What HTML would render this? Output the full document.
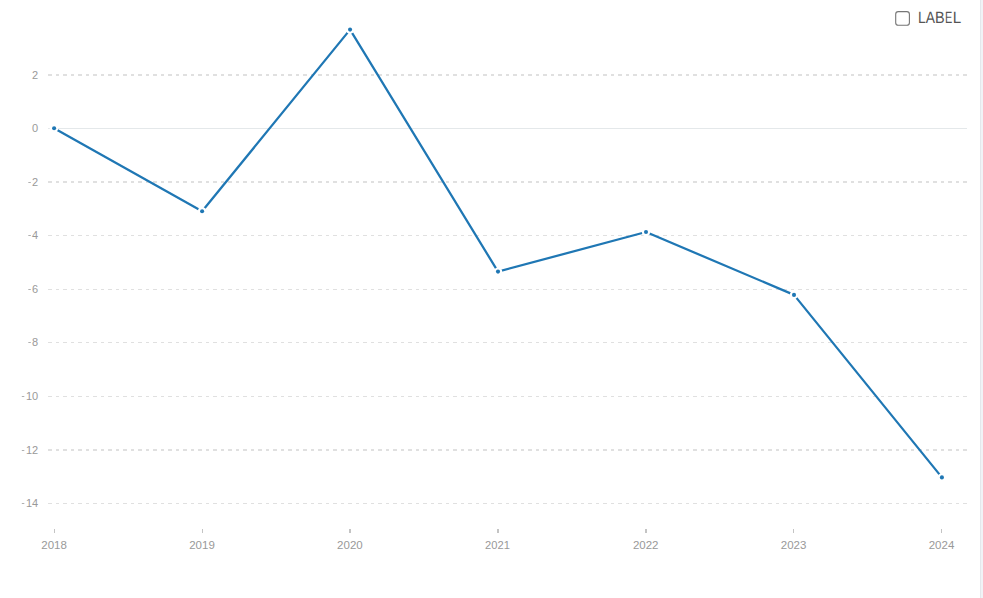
<!DOCTYPE html>
<html><head><meta charset="utf-8"><title>chart</title>
<style>
html,body{margin:0;padding:0;background:#fff;overflow:hidden}
body{width:983px;height:598px;position:relative;font-family:"Liberation Sans",sans-serif}
svg{position:absolute;left:0;top:0;display:block}
text{font-family:"Liberation Sans",sans-serif}
</style></head><body>
<svg width="983" height="598" viewBox="0 0 983 598">
<rect x="0" y="0" width="983" height="598" fill="#ffffff"/>
<rect x="980" y="0" width="1" height="598" fill="#e4e8ec"/>
<rect x="981" y="0" width="2" height="598" fill="#f1f3f6"/>
<g shape-rendering="crispEdges">
<path d="M48 74h4v2h-4zM56 74h3v2h-3zM63 74h4v2h-4zM71 74h3v2h-3zM78 74h4v2h-4zM86 74h3v2h-3zM93 74h4v2h-4zM101 74h3v2h-3zM108 74h4v2h-4zM116 74h3v2h-3zM123 74h4v2h-4zM131 74h3v2h-3zM138 74h4v2h-4zM146 74h3v2h-3zM153 74h4v2h-4zM161 74h3v2h-3zM168 74h4v2h-4zM176 74h3v2h-3zM183 74h4v2h-4zM191 74h3v2h-3zM198 74h4v2h-4zM206 74h3v2h-3zM213 74h4v2h-4zM221 74h3v2h-3zM228 74h4v2h-4zM236 74h3v2h-3zM243 74h4v2h-4zM251 74h3v2h-3zM258 74h4v2h-4zM266 74h3v2h-3zM273 74h4v2h-4zM281 74h3v2h-3zM288 74h4v2h-4zM296 74h3v2h-3zM303 74h4v2h-4zM311 74h3v2h-3zM318 74h4v2h-4zM326 74h3v2h-3zM333 74h4v2h-4zM341 74h3v2h-3zM348 74h4v2h-4zM356 74h3v2h-3zM363 74h4v2h-4zM371 74h3v2h-3zM378 74h4v2h-4zM386 74h3v2h-3zM393 74h4v2h-4zM401 74h3v2h-3zM408 74h4v2h-4zM416 74h3v2h-3zM423 74h4v2h-4zM431 74h3v2h-3zM438 74h4v2h-4zM446 74h3v2h-3zM453 74h4v2h-4zM461 74h3v2h-3zM468 74h4v2h-4zM476 74h3v2h-3zM483 74h4v2h-4zM491 74h3v2h-3zM498 74h4v2h-4zM506 74h3v2h-3zM513 74h4v2h-4zM521 74h3v2h-3zM528 74h4v2h-4zM536 74h3v2h-3zM543 74h4v2h-4zM551 74h3v2h-3zM558 74h4v2h-4zM566 74h3v2h-3zM573 74h4v2h-4zM581 74h3v2h-3zM588 74h4v2h-4zM596 74h3v2h-3zM603 74h4v2h-4zM611 74h3v2h-3zM618 74h4v2h-4zM626 74h3v2h-3zM633 74h4v2h-4zM641 74h3v2h-3zM648 74h4v2h-4zM656 74h3v2h-3zM663 74h4v2h-4zM671 74h3v2h-3zM678 74h4v2h-4zM686 74h3v2h-3zM693 74h4v2h-4zM701 74h3v2h-3zM708 74h4v2h-4zM716 74h3v2h-3zM723 74h4v2h-4zM731 74h3v2h-3zM738 74h4v2h-4zM746 74h3v2h-3zM753 74h4v2h-4zM761 74h3v2h-3zM768 74h4v2h-4zM776 74h3v2h-3zM783 74h4v2h-4zM791 74h3v2h-3zM798 74h4v2h-4zM806 74h3v2h-3zM813 74h4v2h-4zM821 74h3v2h-3zM828 74h4v2h-4zM836 74h3v2h-3zM843 74h4v2h-4zM851 74h3v2h-3zM858 74h4v2h-4zM866 74h3v2h-3zM873 74h4v2h-4zM881 74h3v2h-3zM888 74h4v2h-4zM896 74h3v2h-3zM903 74h4v2h-4zM911 74h3v2h-3zM918 74h4v2h-4zM926 74h3v2h-3zM933 74h4v2h-4zM941 74h3v2h-3zM948 74h4v2h-4zM956 74h3v2h-3zM963 74h4v2h-4z" fill="#e0e0e0"/>
<path d="M48 181h4v2h-4zM56 181h3v2h-3zM63 181h4v2h-4zM71 181h3v2h-3zM78 181h4v2h-4zM86 181h3v2h-3zM93 181h4v2h-4zM101 181h3v2h-3zM108 181h4v2h-4zM116 181h3v2h-3zM123 181h4v2h-4zM131 181h3v2h-3zM138 181h4v2h-4zM146 181h3v2h-3zM153 181h4v2h-4zM161 181h3v2h-3zM168 181h4v2h-4zM176 181h3v2h-3zM183 181h4v2h-4zM191 181h3v2h-3zM198 181h4v2h-4zM206 181h3v2h-3zM213 181h4v2h-4zM221 181h3v2h-3zM228 181h4v2h-4zM236 181h3v2h-3zM243 181h4v2h-4zM251 181h3v2h-3zM258 181h4v2h-4zM266 181h3v2h-3zM273 181h4v2h-4zM281 181h3v2h-3zM288 181h4v2h-4zM296 181h3v2h-3zM303 181h4v2h-4zM311 181h3v2h-3zM318 181h4v2h-4zM326 181h3v2h-3zM333 181h4v2h-4zM341 181h3v2h-3zM348 181h4v2h-4zM356 181h3v2h-3zM363 181h4v2h-4zM371 181h3v2h-3zM378 181h4v2h-4zM386 181h3v2h-3zM393 181h4v2h-4zM401 181h3v2h-3zM408 181h4v2h-4zM416 181h3v2h-3zM423 181h4v2h-4zM431 181h3v2h-3zM438 181h4v2h-4zM446 181h3v2h-3zM453 181h4v2h-4zM461 181h3v2h-3zM468 181h4v2h-4zM476 181h3v2h-3zM483 181h4v2h-4zM491 181h3v2h-3zM498 181h4v2h-4zM506 181h3v2h-3zM513 181h4v2h-4zM521 181h3v2h-3zM528 181h4v2h-4zM536 181h3v2h-3zM543 181h4v2h-4zM551 181h3v2h-3zM558 181h4v2h-4zM566 181h3v2h-3zM573 181h4v2h-4zM581 181h3v2h-3zM588 181h4v2h-4zM596 181h3v2h-3zM603 181h4v2h-4zM611 181h3v2h-3zM618 181h4v2h-4zM626 181h3v2h-3zM633 181h4v2h-4zM641 181h3v2h-3zM648 181h4v2h-4zM656 181h3v2h-3zM663 181h4v2h-4zM671 181h3v2h-3zM678 181h4v2h-4zM686 181h3v2h-3zM693 181h4v2h-4zM701 181h3v2h-3zM708 181h4v2h-4zM716 181h3v2h-3zM723 181h4v2h-4zM731 181h3v2h-3zM738 181h4v2h-4zM746 181h3v2h-3zM753 181h4v2h-4zM761 181h3v2h-3zM768 181h4v2h-4zM776 181h3v2h-3zM783 181h4v2h-4zM791 181h3v2h-3zM798 181h4v2h-4zM806 181h3v2h-3zM813 181h4v2h-4zM821 181h3v2h-3zM828 181h4v2h-4zM836 181h3v2h-3zM843 181h4v2h-4zM851 181h3v2h-3zM858 181h4v2h-4zM866 181h3v2h-3zM873 181h4v2h-4zM881 181h3v2h-3zM888 181h4v2h-4zM896 181h3v2h-3zM903 181h4v2h-4zM911 181h3v2h-3zM918 181h4v2h-4zM926 181h3v2h-3zM933 181h4v2h-4zM941 181h3v2h-3zM948 181h4v2h-4zM956 181h3v2h-3zM963 181h4v2h-4z" fill="#e0e0e0"/>
<path d="M48 235h4v1h-4zM56 235h3v1h-3zM63 235h4v1h-4zM71 235h3v1h-3zM78 235h4v1h-4zM86 235h3v1h-3zM93 235h4v1h-4zM101 235h3v1h-3zM108 235h4v1h-4zM116 235h3v1h-3zM123 235h4v1h-4zM131 235h3v1h-3zM138 235h4v1h-4zM146 235h3v1h-3zM153 235h4v1h-4zM161 235h3v1h-3zM168 235h4v1h-4zM176 235h3v1h-3zM183 235h4v1h-4zM191 235h3v1h-3zM198 235h4v1h-4zM206 235h3v1h-3zM213 235h4v1h-4zM221 235h3v1h-3zM228 235h4v1h-4zM236 235h3v1h-3zM243 235h4v1h-4zM251 235h3v1h-3zM258 235h4v1h-4zM266 235h3v1h-3zM273 235h4v1h-4zM281 235h3v1h-3zM288 235h4v1h-4zM296 235h3v1h-3zM303 235h4v1h-4zM311 235h3v1h-3zM318 235h4v1h-4zM326 235h3v1h-3zM333 235h4v1h-4zM341 235h3v1h-3zM348 235h4v1h-4zM356 235h3v1h-3zM363 235h4v1h-4zM371 235h3v1h-3zM378 235h4v1h-4zM386 235h3v1h-3zM393 235h4v1h-4zM401 235h3v1h-3zM408 235h4v1h-4zM416 235h3v1h-3zM423 235h4v1h-4zM431 235h3v1h-3zM438 235h4v1h-4zM446 235h3v1h-3zM453 235h4v1h-4zM461 235h3v1h-3zM468 235h4v1h-4zM476 235h3v1h-3zM483 235h4v1h-4zM491 235h3v1h-3zM498 235h4v1h-4zM506 235h3v1h-3zM513 235h4v1h-4zM521 235h3v1h-3zM528 235h4v1h-4zM536 235h3v1h-3zM543 235h4v1h-4zM551 235h3v1h-3zM558 235h4v1h-4zM566 235h3v1h-3zM573 235h4v1h-4zM581 235h3v1h-3zM588 235h4v1h-4zM596 235h3v1h-3zM603 235h4v1h-4zM611 235h3v1h-3zM618 235h4v1h-4zM626 235h3v1h-3zM633 235h4v1h-4zM641 235h3v1h-3zM648 235h4v1h-4zM656 235h3v1h-3zM663 235h4v1h-4zM671 235h3v1h-3zM678 235h4v1h-4zM686 235h3v1h-3zM693 235h4v1h-4zM701 235h3v1h-3zM708 235h4v1h-4zM716 235h3v1h-3zM723 235h4v1h-4zM731 235h3v1h-3zM738 235h4v1h-4zM746 235h3v1h-3zM753 235h4v1h-4zM761 235h3v1h-3zM768 235h4v1h-4zM776 235h3v1h-3zM783 235h4v1h-4zM791 235h3v1h-3zM798 235h4v1h-4zM806 235h3v1h-3zM813 235h4v1h-4zM821 235h3v1h-3zM828 235h4v1h-4zM836 235h3v1h-3zM843 235h4v1h-4zM851 235h3v1h-3zM858 235h4v1h-4zM866 235h3v1h-3zM873 235h4v1h-4zM881 235h3v1h-3zM888 235h4v1h-4zM896 235h3v1h-3zM903 235h4v1h-4zM911 235h3v1h-3zM918 235h4v1h-4zM926 235h3v1h-3zM933 235h4v1h-4zM941 235h3v1h-3zM948 235h4v1h-4zM956 235h3v1h-3zM963 235h4v1h-4z" fill="#e0e0e0"/>
<path d="M48 289h4v1h-4zM56 289h3v1h-3zM63 289h4v1h-4zM71 289h3v1h-3zM78 289h4v1h-4zM86 289h3v1h-3zM93 289h4v1h-4zM101 289h3v1h-3zM108 289h4v1h-4zM116 289h3v1h-3zM123 289h4v1h-4zM131 289h3v1h-3zM138 289h4v1h-4zM146 289h3v1h-3zM153 289h4v1h-4zM161 289h3v1h-3zM168 289h4v1h-4zM176 289h3v1h-3zM183 289h4v1h-4zM191 289h3v1h-3zM198 289h4v1h-4zM206 289h3v1h-3zM213 289h4v1h-4zM221 289h3v1h-3zM228 289h4v1h-4zM236 289h3v1h-3zM243 289h4v1h-4zM251 289h3v1h-3zM258 289h4v1h-4zM266 289h3v1h-3zM273 289h4v1h-4zM281 289h3v1h-3zM288 289h4v1h-4zM296 289h3v1h-3zM303 289h4v1h-4zM311 289h3v1h-3zM318 289h4v1h-4zM326 289h3v1h-3zM333 289h4v1h-4zM341 289h3v1h-3zM348 289h4v1h-4zM356 289h3v1h-3zM363 289h4v1h-4zM371 289h3v1h-3zM378 289h4v1h-4zM386 289h3v1h-3zM393 289h4v1h-4zM401 289h3v1h-3zM408 289h4v1h-4zM416 289h3v1h-3zM423 289h4v1h-4zM431 289h3v1h-3zM438 289h4v1h-4zM446 289h3v1h-3zM453 289h4v1h-4zM461 289h3v1h-3zM468 289h4v1h-4zM476 289h3v1h-3zM483 289h4v1h-4zM491 289h3v1h-3zM498 289h4v1h-4zM506 289h3v1h-3zM513 289h4v1h-4zM521 289h3v1h-3zM528 289h4v1h-4zM536 289h3v1h-3zM543 289h4v1h-4zM551 289h3v1h-3zM558 289h4v1h-4zM566 289h3v1h-3zM573 289h4v1h-4zM581 289h3v1h-3zM588 289h4v1h-4zM596 289h3v1h-3zM603 289h4v1h-4zM611 289h3v1h-3zM618 289h4v1h-4zM626 289h3v1h-3zM633 289h4v1h-4zM641 289h3v1h-3zM648 289h4v1h-4zM656 289h3v1h-3zM663 289h4v1h-4zM671 289h3v1h-3zM678 289h4v1h-4zM686 289h3v1h-3zM693 289h4v1h-4zM701 289h3v1h-3zM708 289h4v1h-4zM716 289h3v1h-3zM723 289h4v1h-4zM731 289h3v1h-3zM738 289h4v1h-4zM746 289h3v1h-3zM753 289h4v1h-4zM761 289h3v1h-3zM768 289h4v1h-4zM776 289h3v1h-3zM783 289h4v1h-4zM791 289h3v1h-3zM798 289h4v1h-4zM806 289h3v1h-3zM813 289h4v1h-4zM821 289h3v1h-3zM828 289h4v1h-4zM836 289h3v1h-3zM843 289h4v1h-4zM851 289h3v1h-3zM858 289h4v1h-4zM866 289h3v1h-3zM873 289h4v1h-4zM881 289h3v1h-3zM888 289h4v1h-4zM896 289h3v1h-3zM903 289h4v1h-4zM911 289h3v1h-3zM918 289h4v1h-4zM926 289h3v1h-3zM933 289h4v1h-4zM941 289h3v1h-3zM948 289h4v1h-4zM956 289h3v1h-3zM963 289h4v1h-4z" fill="#e0e0e0"/>
<path d="M48 342h4v1h-4zM56 342h3v1h-3zM63 342h4v1h-4zM71 342h3v1h-3zM78 342h4v1h-4zM86 342h3v1h-3zM93 342h4v1h-4zM101 342h3v1h-3zM108 342h4v1h-4zM116 342h3v1h-3zM123 342h4v1h-4zM131 342h3v1h-3zM138 342h4v1h-4zM146 342h3v1h-3zM153 342h4v1h-4zM161 342h3v1h-3zM168 342h4v1h-4zM176 342h3v1h-3zM183 342h4v1h-4zM191 342h3v1h-3zM198 342h4v1h-4zM206 342h3v1h-3zM213 342h4v1h-4zM221 342h3v1h-3zM228 342h4v1h-4zM236 342h3v1h-3zM243 342h4v1h-4zM251 342h3v1h-3zM258 342h4v1h-4zM266 342h3v1h-3zM273 342h4v1h-4zM281 342h3v1h-3zM288 342h4v1h-4zM296 342h3v1h-3zM303 342h4v1h-4zM311 342h3v1h-3zM318 342h4v1h-4zM326 342h3v1h-3zM333 342h4v1h-4zM341 342h3v1h-3zM348 342h4v1h-4zM356 342h3v1h-3zM363 342h4v1h-4zM371 342h3v1h-3zM378 342h4v1h-4zM386 342h3v1h-3zM393 342h4v1h-4zM401 342h3v1h-3zM408 342h4v1h-4zM416 342h3v1h-3zM423 342h4v1h-4zM431 342h3v1h-3zM438 342h4v1h-4zM446 342h3v1h-3zM453 342h4v1h-4zM461 342h3v1h-3zM468 342h4v1h-4zM476 342h3v1h-3zM483 342h4v1h-4zM491 342h3v1h-3zM498 342h4v1h-4zM506 342h3v1h-3zM513 342h4v1h-4zM521 342h3v1h-3zM528 342h4v1h-4zM536 342h3v1h-3zM543 342h4v1h-4zM551 342h3v1h-3zM558 342h4v1h-4zM566 342h3v1h-3zM573 342h4v1h-4zM581 342h3v1h-3zM588 342h4v1h-4zM596 342h3v1h-3zM603 342h4v1h-4zM611 342h3v1h-3zM618 342h4v1h-4zM626 342h3v1h-3zM633 342h4v1h-4zM641 342h3v1h-3zM648 342h4v1h-4zM656 342h3v1h-3zM663 342h4v1h-4zM671 342h3v1h-3zM678 342h4v1h-4zM686 342h3v1h-3zM693 342h4v1h-4zM701 342h3v1h-3zM708 342h4v1h-4zM716 342h3v1h-3zM723 342h4v1h-4zM731 342h3v1h-3zM738 342h4v1h-4zM746 342h3v1h-3zM753 342h4v1h-4zM761 342h3v1h-3zM768 342h4v1h-4zM776 342h3v1h-3zM783 342h4v1h-4zM791 342h3v1h-3zM798 342h4v1h-4zM806 342h3v1h-3zM813 342h4v1h-4zM821 342h3v1h-3zM828 342h4v1h-4zM836 342h3v1h-3zM843 342h4v1h-4zM851 342h3v1h-3zM858 342h4v1h-4zM866 342h3v1h-3zM873 342h4v1h-4zM881 342h3v1h-3zM888 342h4v1h-4zM896 342h3v1h-3zM903 342h4v1h-4zM911 342h3v1h-3zM918 342h4v1h-4zM926 342h3v1h-3zM933 342h4v1h-4zM941 342h3v1h-3zM948 342h4v1h-4zM956 342h3v1h-3zM963 342h4v1h-4z" fill="#e0e0e0"/>
<path d="M48 396h4v1h-4zM56 396h3v1h-3zM63 396h4v1h-4zM71 396h3v1h-3zM78 396h4v1h-4zM86 396h3v1h-3zM93 396h4v1h-4zM101 396h3v1h-3zM108 396h4v1h-4zM116 396h3v1h-3zM123 396h4v1h-4zM131 396h3v1h-3zM138 396h4v1h-4zM146 396h3v1h-3zM153 396h4v1h-4zM161 396h3v1h-3zM168 396h4v1h-4zM176 396h3v1h-3zM183 396h4v1h-4zM191 396h3v1h-3zM198 396h4v1h-4zM206 396h3v1h-3zM213 396h4v1h-4zM221 396h3v1h-3zM228 396h4v1h-4zM236 396h3v1h-3zM243 396h4v1h-4zM251 396h3v1h-3zM258 396h4v1h-4zM266 396h3v1h-3zM273 396h4v1h-4zM281 396h3v1h-3zM288 396h4v1h-4zM296 396h3v1h-3zM303 396h4v1h-4zM311 396h3v1h-3zM318 396h4v1h-4zM326 396h3v1h-3zM333 396h4v1h-4zM341 396h3v1h-3zM348 396h4v1h-4zM356 396h3v1h-3zM363 396h4v1h-4zM371 396h3v1h-3zM378 396h4v1h-4zM386 396h3v1h-3zM393 396h4v1h-4zM401 396h3v1h-3zM408 396h4v1h-4zM416 396h3v1h-3zM423 396h4v1h-4zM431 396h3v1h-3zM438 396h4v1h-4zM446 396h3v1h-3zM453 396h4v1h-4zM461 396h3v1h-3zM468 396h4v1h-4zM476 396h3v1h-3zM483 396h4v1h-4zM491 396h3v1h-3zM498 396h4v1h-4zM506 396h3v1h-3zM513 396h4v1h-4zM521 396h3v1h-3zM528 396h4v1h-4zM536 396h3v1h-3zM543 396h4v1h-4zM551 396h3v1h-3zM558 396h4v1h-4zM566 396h3v1h-3zM573 396h4v1h-4zM581 396h3v1h-3zM588 396h4v1h-4zM596 396h3v1h-3zM603 396h4v1h-4zM611 396h3v1h-3zM618 396h4v1h-4zM626 396h3v1h-3zM633 396h4v1h-4zM641 396h3v1h-3zM648 396h4v1h-4zM656 396h3v1h-3zM663 396h4v1h-4zM671 396h3v1h-3zM678 396h4v1h-4zM686 396h3v1h-3zM693 396h4v1h-4zM701 396h3v1h-3zM708 396h4v1h-4zM716 396h3v1h-3zM723 396h4v1h-4zM731 396h3v1h-3zM738 396h4v1h-4zM746 396h3v1h-3zM753 396h4v1h-4zM761 396h3v1h-3zM768 396h4v1h-4zM776 396h3v1h-3zM783 396h4v1h-4zM791 396h3v1h-3zM798 396h4v1h-4zM806 396h3v1h-3zM813 396h4v1h-4zM821 396h3v1h-3zM828 396h4v1h-4zM836 396h3v1h-3zM843 396h4v1h-4zM851 396h3v1h-3zM858 396h4v1h-4zM866 396h3v1h-3zM873 396h4v1h-4zM881 396h3v1h-3zM888 396h4v1h-4zM896 396h3v1h-3zM903 396h4v1h-4zM911 396h3v1h-3zM918 396h4v1h-4zM926 396h3v1h-3zM933 396h4v1h-4zM941 396h3v1h-3zM948 396h4v1h-4zM956 396h3v1h-3zM963 396h4v1h-4z" fill="#e0e0e0"/>
<path d="M48 449h4v2h-4zM56 449h3v2h-3zM63 449h4v2h-4zM71 449h3v2h-3zM78 449h4v2h-4zM86 449h3v2h-3zM93 449h4v2h-4zM101 449h3v2h-3zM108 449h4v2h-4zM116 449h3v2h-3zM123 449h4v2h-4zM131 449h3v2h-3zM138 449h4v2h-4zM146 449h3v2h-3zM153 449h4v2h-4zM161 449h3v2h-3zM168 449h4v2h-4zM176 449h3v2h-3zM183 449h4v2h-4zM191 449h3v2h-3zM198 449h4v2h-4zM206 449h3v2h-3zM213 449h4v2h-4zM221 449h3v2h-3zM228 449h4v2h-4zM236 449h3v2h-3zM243 449h4v2h-4zM251 449h3v2h-3zM258 449h4v2h-4zM266 449h3v2h-3zM273 449h4v2h-4zM281 449h3v2h-3zM288 449h4v2h-4zM296 449h3v2h-3zM303 449h4v2h-4zM311 449h3v2h-3zM318 449h4v2h-4zM326 449h3v2h-3zM333 449h4v2h-4zM341 449h3v2h-3zM348 449h4v2h-4zM356 449h3v2h-3zM363 449h4v2h-4zM371 449h3v2h-3zM378 449h4v2h-4zM386 449h3v2h-3zM393 449h4v2h-4zM401 449h3v2h-3zM408 449h4v2h-4zM416 449h3v2h-3zM423 449h4v2h-4zM431 449h3v2h-3zM438 449h4v2h-4zM446 449h3v2h-3zM453 449h4v2h-4zM461 449h3v2h-3zM468 449h4v2h-4zM476 449h3v2h-3zM483 449h4v2h-4zM491 449h3v2h-3zM498 449h4v2h-4zM506 449h3v2h-3zM513 449h4v2h-4zM521 449h3v2h-3zM528 449h4v2h-4zM536 449h3v2h-3zM543 449h4v2h-4zM551 449h3v2h-3zM558 449h4v2h-4zM566 449h3v2h-3zM573 449h4v2h-4zM581 449h3v2h-3zM588 449h4v2h-4zM596 449h3v2h-3zM603 449h4v2h-4zM611 449h3v2h-3zM618 449h4v2h-4zM626 449h3v2h-3zM633 449h4v2h-4zM641 449h3v2h-3zM648 449h4v2h-4zM656 449h3v2h-3zM663 449h4v2h-4zM671 449h3v2h-3zM678 449h4v2h-4zM686 449h3v2h-3zM693 449h4v2h-4zM701 449h3v2h-3zM708 449h4v2h-4zM716 449h3v2h-3zM723 449h4v2h-4zM731 449h3v2h-3zM738 449h4v2h-4zM746 449h3v2h-3zM753 449h4v2h-4zM761 449h3v2h-3zM768 449h4v2h-4zM776 449h3v2h-3zM783 449h4v2h-4zM791 449h3v2h-3zM798 449h4v2h-4zM806 449h3v2h-3zM813 449h4v2h-4zM821 449h3v2h-3zM828 449h4v2h-4zM836 449h3v2h-3zM843 449h4v2h-4zM851 449h3v2h-3zM858 449h4v2h-4zM866 449h3v2h-3zM873 449h4v2h-4zM881 449h3v2h-3zM888 449h4v2h-4zM896 449h3v2h-3zM903 449h4v2h-4zM911 449h3v2h-3zM918 449h4v2h-4zM926 449h3v2h-3zM933 449h4v2h-4zM941 449h3v2h-3zM948 449h4v2h-4zM956 449h3v2h-3zM963 449h4v2h-4z" fill="#e0e0e0"/>
<path d="M48 503h4v1h-4zM56 503h3v1h-3zM63 503h4v1h-4zM71 503h3v1h-3zM78 503h4v1h-4zM86 503h3v1h-3zM93 503h4v1h-4zM101 503h3v1h-3zM108 503h4v1h-4zM116 503h3v1h-3zM123 503h4v1h-4zM131 503h3v1h-3zM138 503h4v1h-4zM146 503h3v1h-3zM153 503h4v1h-4zM161 503h3v1h-3zM168 503h4v1h-4zM176 503h3v1h-3zM183 503h4v1h-4zM191 503h3v1h-3zM198 503h4v1h-4zM206 503h3v1h-3zM213 503h4v1h-4zM221 503h3v1h-3zM228 503h4v1h-4zM236 503h3v1h-3zM243 503h4v1h-4zM251 503h3v1h-3zM258 503h4v1h-4zM266 503h3v1h-3zM273 503h4v1h-4zM281 503h3v1h-3zM288 503h4v1h-4zM296 503h3v1h-3zM303 503h4v1h-4zM311 503h3v1h-3zM318 503h4v1h-4zM326 503h3v1h-3zM333 503h4v1h-4zM341 503h3v1h-3zM348 503h4v1h-4zM356 503h3v1h-3zM363 503h4v1h-4zM371 503h3v1h-3zM378 503h4v1h-4zM386 503h3v1h-3zM393 503h4v1h-4zM401 503h3v1h-3zM408 503h4v1h-4zM416 503h3v1h-3zM423 503h4v1h-4zM431 503h3v1h-3zM438 503h4v1h-4zM446 503h3v1h-3zM453 503h4v1h-4zM461 503h3v1h-3zM468 503h4v1h-4zM476 503h3v1h-3zM483 503h4v1h-4zM491 503h3v1h-3zM498 503h4v1h-4zM506 503h3v1h-3zM513 503h4v1h-4zM521 503h3v1h-3zM528 503h4v1h-4zM536 503h3v1h-3zM543 503h4v1h-4zM551 503h3v1h-3zM558 503h4v1h-4zM566 503h3v1h-3zM573 503h4v1h-4zM581 503h3v1h-3zM588 503h4v1h-4zM596 503h3v1h-3zM603 503h4v1h-4zM611 503h3v1h-3zM618 503h4v1h-4zM626 503h3v1h-3zM633 503h4v1h-4zM641 503h3v1h-3zM648 503h4v1h-4zM656 503h3v1h-3zM663 503h4v1h-4zM671 503h3v1h-3zM678 503h4v1h-4zM686 503h3v1h-3zM693 503h4v1h-4zM701 503h3v1h-3zM708 503h4v1h-4zM716 503h3v1h-3zM723 503h4v1h-4zM731 503h3v1h-3zM738 503h4v1h-4zM746 503h3v1h-3zM753 503h4v1h-4zM761 503h3v1h-3zM768 503h4v1h-4zM776 503h3v1h-3zM783 503h4v1h-4zM791 503h3v1h-3zM798 503h4v1h-4zM806 503h3v1h-3zM813 503h4v1h-4zM821 503h3v1h-3zM828 503h4v1h-4zM836 503h3v1h-3zM843 503h4v1h-4zM851 503h3v1h-3zM858 503h4v1h-4zM866 503h3v1h-3zM873 503h4v1h-4zM881 503h3v1h-3zM888 503h4v1h-4zM896 503h3v1h-3zM903 503h4v1h-4zM911 503h3v1h-3zM918 503h4v1h-4zM926 503h3v1h-3zM933 503h4v1h-4zM941 503h3v1h-3zM948 503h4v1h-4zM956 503h3v1h-3zM963 503h4v1h-4z" fill="#e0e0e0"/>
<rect x="48" y="128" width="919" height="1" fill="#e4e8ea"/>
<rect x="54" y="529" width="1" height="4" fill="#c4c4c4"/>
<rect x="202" y="529" width="1" height="4" fill="#c4c4c4"/>
<rect x="349" y="529" width="2" height="4" fill="#c4c4c4"/>
<rect x="497" y="529" width="2" height="4" fill="#c4c4c4"/>
<rect x="645" y="529" width="2" height="4" fill="#c4c4c4"/>
<rect x="793" y="529" width="1" height="4" fill="#c4c4c4"/>
<rect x="941" y="529" width="1" height="4" fill="#c4c4c4"/>
</g>
<g fill="#999999" font-size="11" text-anchor="end">
<text x="38.2" y="78.95">2</text>
<text x="38.2" y="185.95">2</text>
<rect x="28.3" y="182" width="2.5" height="1" fill="#b0b0b0"/>
<text x="38.2" y="239.45">4</text>
<rect x="28.3" y="235" width="2.5" height="1" fill="#b0b0b0"/>
<text x="38.2" y="293.45">6</text>
<rect x="28.3" y="289" width="2.5" height="1" fill="#b0b0b0"/>
<text x="38.2" y="346.45">8</text>
<rect x="28.3" y="342" width="2.5" height="1" fill="#b0b0b0"/>
<text x="38.2" y="400.45">10</text>
<rect x="21.8" y="396" width="2.5" height="1" fill="#b0b0b0"/>
<text x="38.2" y="453.95">12</text>
<rect x="21.8" y="450" width="2.5" height="1" fill="#b0b0b0"/>
<text x="38.2" y="507.45">14</text>
<rect x="21.8" y="503" width="2.5" height="1" fill="#b0b0b0"/>
<text x="38.2" y="132.45">0</text>
</g>
<g fill="#999999" font-size="11" text-anchor="middle">
<text x="54.1" y="549" textLength="25.6" lengthAdjust="spacingAndGlyphs">2018</text>
<text x="202.0" y="549" textLength="25.6" lengthAdjust="spacingAndGlyphs">2019</text>
<text x="349.9" y="549" textLength="25.6" lengthAdjust="spacingAndGlyphs">2020</text>
<text x="497.5" y="549" textLength="24.8" lengthAdjust="spacingAndGlyphs">2021</text>
<text x="645.7" y="549" textLength="25.6" lengthAdjust="spacingAndGlyphs">2022</text>
<text x="793.6" y="549" textLength="25.6" lengthAdjust="spacingAndGlyphs">2023</text>
<text x="941.5" y="549" textLength="25.6" lengthAdjust="spacingAndGlyphs">2024</text>
</g>
<polyline fill="none" stroke="#1f77b4" stroke-width="2.25" stroke-linejoin="round" points="54.1,128.3 202.1,211.3 350.05,29.6 498.0,271.6 646.0,232.0 794.0,294.9 941.9,477.4"/>
<circle cx="54.1" cy="128.3" r="4.2" fill="#ffffff"/><circle cx="54.1" cy="128.3" r="2.05" fill="#1f77b4"/>
<circle cx="202.1" cy="211.3" r="4.2" fill="#ffffff"/><circle cx="202.1" cy="211.3" r="2.05" fill="#1f77b4"/>
<circle cx="350.05" cy="29.6" r="4.2" fill="#ffffff"/><circle cx="350.05" cy="29.6" r="2.05" fill="#1f77b4"/>
<circle cx="498.0" cy="271.6" r="4.2" fill="#ffffff"/><circle cx="498.0" cy="271.6" r="2.05" fill="#1f77b4"/>
<circle cx="646.0" cy="232.0" r="4.2" fill="#ffffff"/><circle cx="646.0" cy="232.0" r="2.05" fill="#1f77b4"/>
<circle cx="794.0" cy="294.9" r="4.2" fill="#ffffff"/><circle cx="794.0" cy="294.9" r="2.05" fill="#1f77b4"/>
<circle cx="941.9" cy="477.4" r="4.2" fill="#ffffff"/><circle cx="941.9" cy="477.4" r="2.05" fill="#1f77b4"/>
<rect x="895.7" y="11.6" width="13.7" height="13.7" rx="2.6" ry="2.6" fill="#ffffff" stroke="#767676" stroke-width="1.1"/>
<g font-size="16.3" fill="#555555" text-rendering="geometricPrecision"><text transform="translate(918.07,23.05) scale(0.849,1)">L</text><text transform="translate(925.77,23.05) scale(0.851,1)">A</text><text transform="translate(934.91,23.05) scale(0.888,1)">B</text><text transform="translate(945.11,23.05) scale(0.668,1)">E</text><text transform="translate(952.85,23.05) scale(0.932,1)">L</text></g>
</svg></body></html>
